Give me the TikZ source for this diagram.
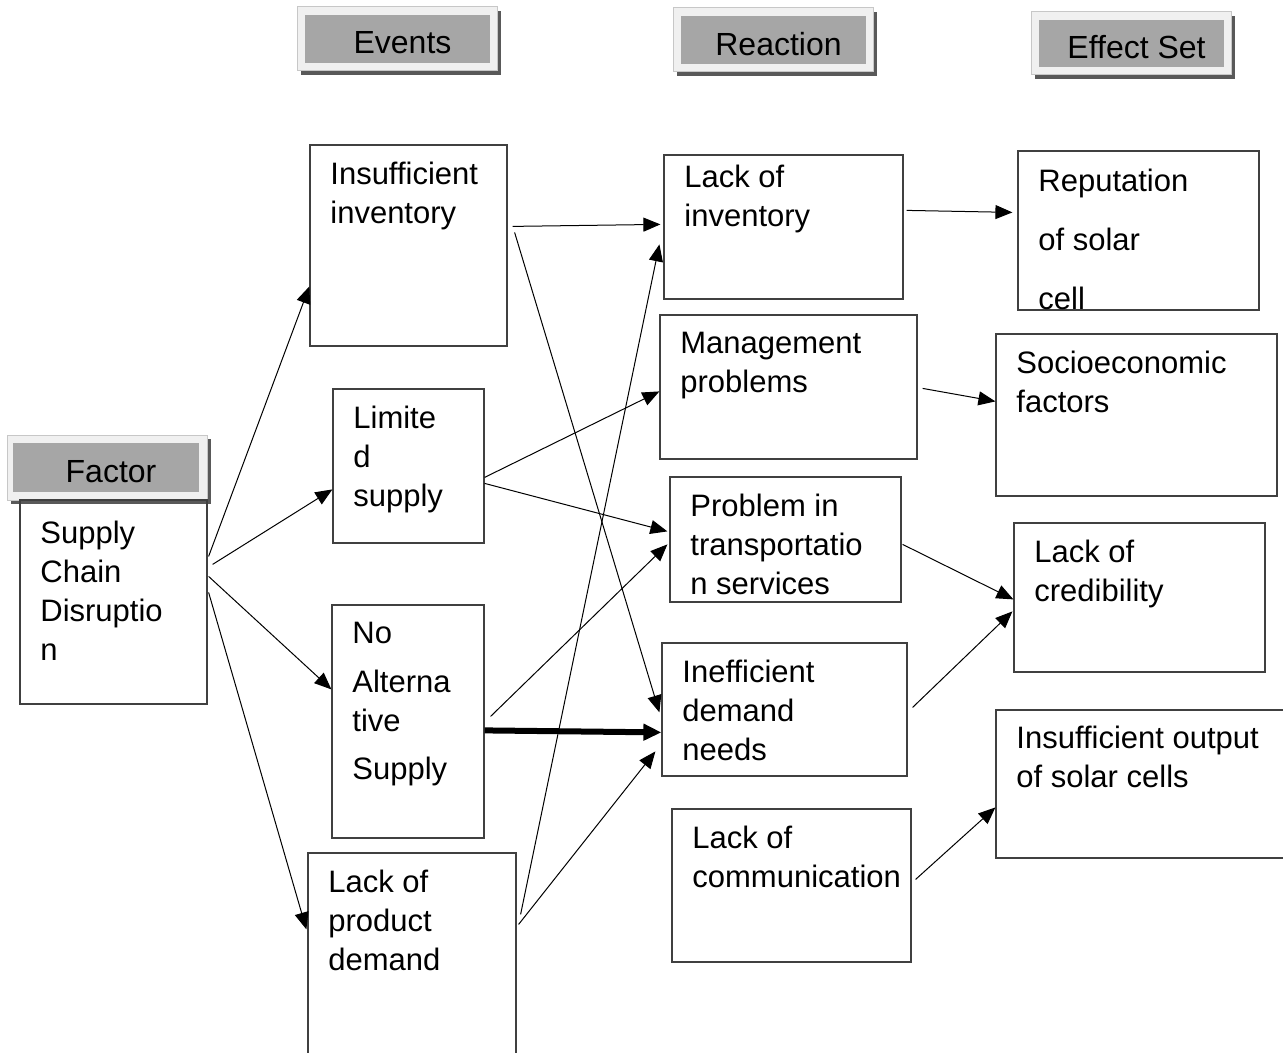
\documentclass[tikz,border=0pt]{standalone}
\usepackage{fontspec}
\setmainfont{Liberation Sans}
\usetikzlibrary{arrows.meta,fit,shadows}
\definecolor{HdrGray}{RGB}{166,166,166}
\definecolor{HdrFrame}{RGB}{240,240,240}
\definecolor{HdrShadow}{RGB}{89,89,89}
\definecolor{BoxLine}{RGB}{64,64,64}

\begin{document}
\begin{tikzpicture}[x=0.5pt,y=-0.5pt,
    hdrout/.style={draw=black!22,line width=0.5pt,fill=HdrFrame,inner sep=0pt,
        drop shadow={shadow xshift=2pt,shadow yshift=-2pt,fill=HdrShadow,opacity=1}},
    hdrin/.style={fill=HdrGray,inner sep=0pt},
    hdrtxt/.style={inner sep=0pt,xshift=2.5pt,yshift=-2pt,font=\fontsize{16}{19.5}\selectfont},
    bx/.style={draw=BoxLine,line width=0.6pt,inner sep=0pt},
    txt/.style={anchor=north west,inner sep=0pt,align=left,font=\fontsize{15.5}{19.5}\selectfont},
    ar/.style={black,line width=0.5pt,-{Triangle[length=8.5pt,width=7pt]}},
    bar/.style={black,line width=3pt,-{Triangle[length=9pt,width=8pt]}}
]
\useasboundingbox (0,0) rectangle (1283,1053);

% Column headers
\node[hdrout,fit={(297,7) (497,71)}] (evo) {};
\node[hdrin,fit={(305,15) (490,63)},label={[hdrtxt]center:Events}] (ev) {};
\node[hdrout,fit={(673,8) (873,72)}] (reo) {};
\node[hdrin,fit={(681,16) (866,64)},label={[hdrtxt]center:Reaction}] (re) {};
\node[hdrout,fit={(1031,12) (1231,75)}] (efo) {};
\node[hdrin,fit={(1039,20) (1224,67)},label={[hdrtxt]center:Effect Set}] (ef) {};
\node[hdrout,fit={(7,435) (207,500)}] (fao) {};
\node[hdrin,fit={(13,443) (199,492)},label={[hdrtxt]center:Factor}] (fa) {};

% Factor
\node[bx,fit={(20,500) (207,704)}] (ff) {};
\node[txt] (fft) at (40,521) {Supply\\Chain\\Disruptio\\n};

% Events
\node[bx,fit={(310,145) (507,346)}] (ii) {};
\node[txt] (iit) at (330,162) {Insufficient\\inventory};
\node[bx,fit={(333,389) (484,543)}] (ls) {};
\node[txt] (lst) at (353,406) {Limite\\d\\supply};
\node[bx,fit={(332,605) (484,838)}] (na) {};
\node[txt] (nat) at (352,622) {No\\[5pt]Alterna\\tive\\[4.5pt]Supply};
\node[bx,fit={(308,853) (516,1060)}] (lp) {};
\node[txt] (lpt) at (328,870) {Lack of\\product\\demand};

% Reaction
\node[bx,fit={(664,155) (903,299)}] (li) {};
\node[txt] (lit) at (684,165) {Lack of\\inventory};
\node[bx,fit={(660,315) (917,459)}] (mp) {};
\node[txt] (mpt) at (680,332) {Management\\problems};
\node[bx,fit={(670,477) (901,602)}] (pt) {};
\node[txt] (ptt) at (690,494) {Problem in\\transportatio\\n services};
\node[bx,fit={(662,643) (907,776)}] (id) {};
\node[txt] (idt) at (682,660) {Inefficient\\demand\\needs};
\node[bx,fit={(672,809) (911,962)}] (lc) {};
\node[txt] (lct) at (692,826) {Lack of\\communication};

% Effect set
\node[bx,fit={(1018,151) (1259,310)}] (rs) {};
\node[txt] (rst) at (1038,169) {Reputation\\[10pt]of solar\\[10pt]cell};
\node[bx,fit={(996,334) (1277,496)}] (se) {};
\node[txt] (set) at (1016,351) {Socioeconomic\\factors};
\node[bx,fit={(1014,523) (1265,672)}] (cr) {};
\node[txt] (crt) at (1034,540) {Lack of\\credibility};
\node[bx,fit={(996,710) (1285,858)}] (io) {};
\node[txt] (iot) at (1016,726) {Insufficient output\\of solar cells};

% Factor -> events
\draw[ar] ([shift={(1,57)}]ff.north east) -- ([shift={(0,142)}]ii.north west);
\draw[ar] ([shift={(5,65)}]ff.north east) -- ([shift={(0,101)}]ls.north west);
\draw[ar] ([shift={(1,77)}]ff.north east) -- ([shift={(0,85)}]na.north west);
\draw[ar] ([shift={(1,93)}]ff.north east) -- ([shift={(-1,77)}]lp.north west);

% Events -> reaction
\draw[ar] ([shift={(5,82)}]ii.north east) -- ([shift={(-3,70)}]li.north west);
\draw[ar] ([shift={(7,88)}]ii.north east) -- ([shift={(-2,70)}]id.north west);
\draw[ar] ([shift={(0,89)}]ls.north east) -- ([shift={(0,77)}]mp.north west);
\draw[ar] ([shift={(0,95)}]ls.north east) -- ([shift={(-2,55)}]pt.north west);
\draw[ar] ([shift={(6,112)}]na.north east) -- ([shift={(-2,68)}]pt.north west);
\draw[bar] ([shift={(0,126)}]na.north east) -- ([shift={(0,90)}]id.north west);
\draw[ar] ([shift={(4,62)}]lp.north east) -- ([shift={(-4,90)}]li.north west);
\draw[ar] ([shift={(2,72)}]lp.north east) -- ([shift={(-6,109)}]id.north west);

% Reaction -> effect set
\draw[ar] ([shift={(3,56)}]li.north east) -- ([shift={(-5,62)}]rs.north west);
\draw[ar] ([shift={(5,74)}]mp.north east) -- ([shift={(0,68)}]se.north west);
\draw[ar] ([shift={(1,68)}]pt.north east) -- ([shift={(0,77)}]cr.north west);
\draw[ar] ([shift={(5,65)}]id.north east) -- ([shift={(-1,89)}]cr.north west);
\draw[ar] ([shift={(4,71)}]lc.north east) -- ([shift={(0,98)}]io.north west);
\end{tikzpicture}
\end{document}
